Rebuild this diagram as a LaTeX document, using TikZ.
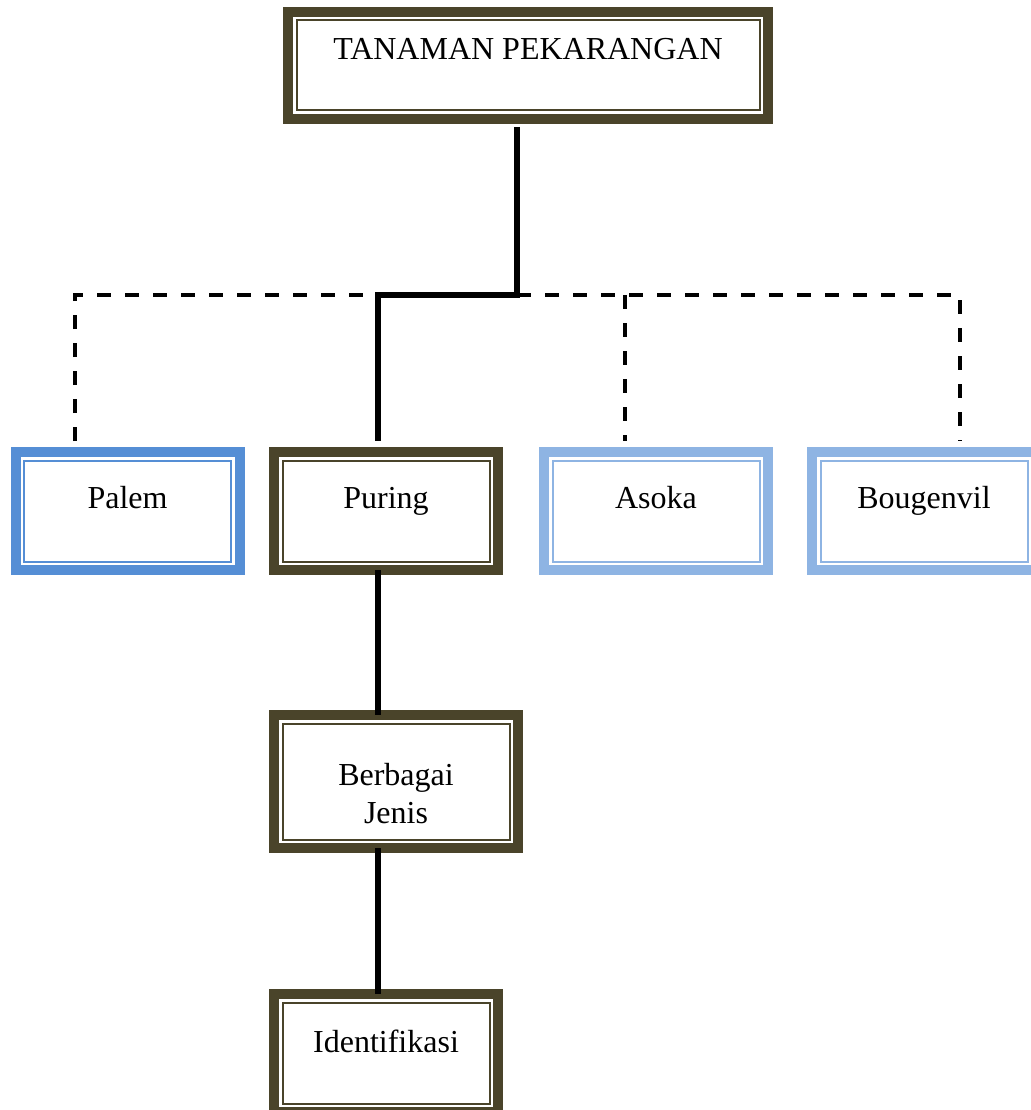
\documentclass[tikz,border=0pt]{standalone}
\usepackage{fontspec}
\setmainfont{Liberation Serif}
\usepackage{tikz}
\definecolor{olivedark}{HTML}{4A442A}
\definecolor{bluemid}{HTML}{558ED5}
\definecolor{bluelight}{HTML}{8EB4E3}
\tikzset{
  frame/.style={draw=#1, fill=white, line width=10pt, inner sep=0pt, outer sep=0pt,
    font=\fontsize{32}{38}\selectfont,
    path picture={\draw[#1,line width=2pt]
      ([shift={(8.5pt,-8.5pt)}]path picture bounding box.north west) rectangle
      ([shift={(-8.5pt,8.5pt)}]path picture bounding box.south east);}},
  smallbox/.style={frame=#1, minimum width=224pt, text height=56pt, text depth=62pt},
  trunk/.style={line width=5.5pt},
  branch/.style={line width=3.5pt, dash pattern=on 14pt off 14pt},
}

\begin{document}
\begin{tikzpicture}[x=1pt,y=-1pt]
        \useasboundingbox (0,0) rectangle (1030,1110);
        \node[frame=olivedark, minimum width=480pt, text height=48pt, text depth=59pt] (top) at (528,65.5) {TANAMAN PEKARANGAN};
        \node[smallbox=bluemid] (palem) at (127.5,511) {Palem};
        \node[smallbox=olivedark] (puring) at (386,511) {Puring};
        \node[smallbox=bluelight] (asoka) at (656,511) {Asoka};
        \node[smallbox=bluelight] (bougenvil) at (924,511) {Bougenvil};
        \node[frame=olivedark, minimum width=244pt, text height=108pt, text depth=25pt, align=center] (jenis) at (396,781.5) {Berbagai\\Jenis};
        \node[smallbox=olivedark, text height=58pt, text depth=60pt] (ident) at (386,1053) {Identifikasi};
        \coordinate (bus) at (0,295);
        \draw[branch] ([xshift=-52.5pt,yshift=11pt]palem.north) |- ([xshift=36pt]bougenvil.north |- bus) -- ([xshift=36pt,yshift=11pt]bougenvil.north);
        \draw[branch] ([xshift=-31pt]asoka.north |- bus) -- ([xshift=-31pt,yshift=11pt]asoka.north);
        \draw[trunk] ([xshift=-11pt,yshift=-8pt]top.south) |- ([xshift=-8pt]puring.north |- bus) -- ([xshift=-8pt,yshift=11pt]puring.north);
        \draw[trunk] ([xshift=-8pt]puring.south) -- ([xshift=-8pt]puring.south |- jenis.north);
        \draw[trunk] ([xshift=-8pt]ident.north |- jenis.south) -- ([xshift=-8pt]ident.north);
\end{tikzpicture}
\end{document}
